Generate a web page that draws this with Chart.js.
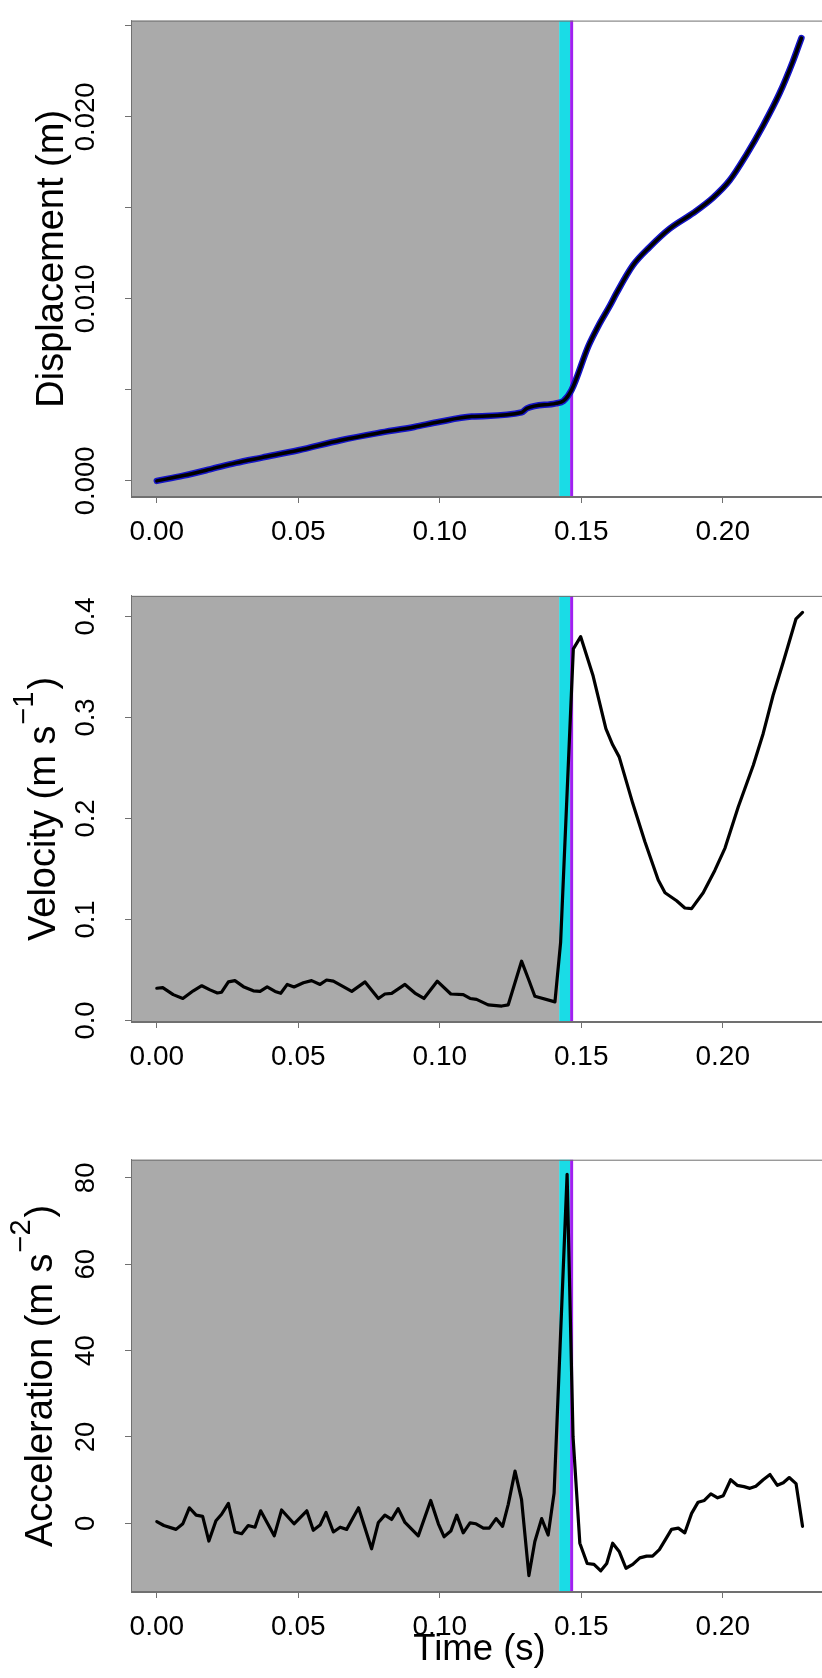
<!DOCTYPE html>
<html>
<head>
<meta charset="utf-8">
<title>Displacement, velocity and acceleration</title>
<script src="https://cdn.jsdelivr.net/npm/chart.js@4.4.1/dist/chart.umd.min.js"></script>
<style>
  html, body { margin: 0; padding: 0; background: #fff; overflow: hidden; }
  #page { position: relative; width: 822px; height: 1678px; overflow: hidden; background: #fff; }
  .panel { position: absolute; left: 0; }
</style>
</head>
<body>
<div id="page">
  <canvas id="dispChart" class="panel" style="top:0px" width="828" height="560"></canvas>
  <canvas id="velChart" class="panel" style="top:560px" width="828" height="560"></canvas>
  <canvas id="accChart" class="panel" style="top:1120px" width="828" height="558"></canvas>
</div>
<script>
// displacement trace (time in s, displacement in m)
var dispTime = [0, 0.0094, 0.0187, 0.028, 0.0372, 0.05, 0.065, 0.078, 0.091, 0.1, 0.1113, 0.1289, 0.1308, 0.141,
    0.1437, 0.1466, 0.1525, 0.156, 0.1601, 0.1624, 0.1683, 0.1742, 0.1812, 0.1895, 0.1965, 0.2024, 0.2083, 0.2142,
    0.2201, 0.2248, 0.2278];
var dispValue = [0, 0.00029, 0.00063, 0.00099, 0.00128, 0.00168, 0.00223, 0.00262, 0.00296, 0.00325, 0.00353,
    0.00376, 0.00398, 0.00426, 0.00439, 0.0050, 0.0074, 0.0085, 0.00962, 0.0103, 0.01185, 0.01285, 0.01385, 0.01471,
    0.01555, 0.0165, 0.0179, 0.0195, 0.0213, 0.02305, 0.02433];

// velocity (m/s)
var velTime = [0, 0.0021, 0.0058, 0.0092, 0.0129, 0.0159, 0.0188, 0.0214, 0.0229, 0.0253, 0.0276, 0.0306, 0.0341,
    0.0365, 0.039, 0.0418, 0.0438, 0.0461, 0.0485, 0.0518, 0.0547, 0.0577, 0.06, 0.0624, 0.0659, 0.0689, 0.0736,
    0.0783, 0.0806, 0.083, 0.0877, 0.0912, 0.0944, 0.0991, 0.1039, 0.1083, 0.1107, 0.113, 0.1171, 0.1219, 0.1242,
    0.1289, 0.1313, 0.1336, 0.1407, 0.1427, 0.1472, 0.1498, 0.1542, 0.1587, 0.1611, 0.1634, 0.1682, 0.1725, 0.1772,
    0.1796, 0.1837, 0.1866, 0.189, 0.1931, 0.1972, 0.2008, 0.2055, 0.2108, 0.2143, 0.2178, 0.2214, 0.2259, 0.2282];
var velValue = [0.0319, 0.0325, 0.0256, 0.0218, 0.0294, 0.0344, 0.0303, 0.0272, 0.028, 0.0382, 0.0395, 0.0335,
    0.0294, 0.0288, 0.0332, 0.0288, 0.0269, 0.0357, 0.0332, 0.0373, 0.0395, 0.0357, 0.0401, 0.0389, 0.0335, 0.0288,
    0.0382, 0.0218, 0.0262, 0.0269, 0.0357, 0.0272, 0.0218, 0.0389, 0.0262, 0.0256, 0.0218, 0.0209, 0.0155, 0.0143,
    0.0155, 0.0587, 0.0413, 0.024, 0.0184, 0.077, 0.368, 0.380, 0.341, 0.289, 0.273, 0.261, 0.215, 0.177, 0.139,
    0.1265, 0.1186, 0.1114, 0.1108, 0.1265, 0.1486, 0.1707, 0.2116, 0.2527, 0.2842, 0.322, 0.355, 0.3977, 0.404];

// acceleration (m/s^2)
var accTime = [0, 0.0025, 0.0068, 0.0092, 0.0115, 0.0139, 0.0162, 0.0184, 0.0209, 0.0229, 0.0253, 0.0276, 0.03,
    0.0323, 0.0347, 0.0367, 0.0392, 0.0415, 0.0441, 0.0485, 0.053, 0.0553, 0.0577, 0.0598, 0.0624, 0.0648, 0.0671,
    0.0713, 0.0759, 0.0783, 0.0806, 0.083, 0.0853, 0.0877, 0.0924, 0.0968, 0.0995, 0.1015, 0.1039, 0.106, 0.1083,
    0.1107, 0.1128, 0.1154, 0.1175, 0.1199, 0.1222, 0.1242, 0.1266, 0.1289, 0.1315, 0.1336, 0.136, 0.1383, 0.1404,
    0.145, 0.1471, 0.1495, 0.1521, 0.1545, 0.1569, 0.159, 0.1611, 0.1634, 0.1658, 0.1682, 0.1707, 0.1731, 0.1752,
    0.1776, 0.1799, 0.1819, 0.1843, 0.1866, 0.189, 0.1913, 0.1935, 0.1958, 0.1982, 0.2002, 0.2028, 0.2051, 0.2075,
    0.2096, 0.2117, 0.2143, 0.2167, 0.2193, 0.2214, 0.2235, 0.2259, 0.2282];
var accValue = [0.4, -0.5, -1.4, -0.1, 3.6, 1.9, 1.6, -4.1, 0.6, 2.1, 4.6, -2.0, -2.4, -0.5, -0.9, 2.9, -0.1, -2.9,
    3.1, -0.1, 2.9, -1.6, -0.4, 2.5, -2.0, -0.9, -1.4, 3.6, -5.9, 0.2, 1.9, 0.9, 3.4, 0.2, -2.9, 5.3, -0.1, -3.1,
    -1.8, 1.9, -2.2, 0.1, -0.1, -1.1, -1.1, 1.1, -0.7, 4.4, 12.1, 5.5, -12.1, -4.2, 1.1, -2.7, 7.0, 80.8, 20, -4.6,
    -9.3, -9.5, -11.0, -9.3, -4.6, -6.5, -10.4, -9.5, -8.0, -7.6, -7.6, -6.1, -3.6, -1.4, -1.1, -2.2, 2.3, 4.9, 5.3,
    6.8, 5.9, 6.4, 10.1, 8.8, 8.5, 8.1, 8.6, 10.1, 11.3, 8.8, 9.4, 10.6, 9.2, -0.7];

// shaded phases (s)
var shadeEnd = 0.1422;
var cyanEnd = 0.1461;
var markTime = 0.1466;

// axes
var timeMin = -0.00912, timeMax = 0.2372;
var timeTicks = [0, 0.05, 0.10, 0.15, 0.20];
var timeTickLabels = ['0.00', '0.05', '0.10', '0.15', '0.20'];
var dispTicks = [0, 0.005, 0.010, 0.015, 0.020, 0.025];
var dispTickLabels = ['0.000', '', '0.010', '', '0.020', ''];
var velTicks = [0, 0.1, 0.2, 0.3, 0.4];
var velTickLabels = ['0.0', '0.1', '0.2', '0.3', '0.4'];
var accTicks = [0, 20, 40, 60, 80];
var accTickLabels = ['0', '20', '40', '60', '80'];

var family = "'Liberation Sans', Arial, sans-serif";
var axisGray = '#707070';
var xTickSize = 28;
var yTickSize = 27.5;
Chart.defaults.font.family = family;

var points = function(xs, ys) {
    return xs.map(function(x, i) { return { x: x, y: ys[i] }; });
};

// y labels are rotated and centred on x = 86.5 like R does
var centerPad = function(labels) {
    var c = document.createElement('canvas').getContext('2d');
    c.font = yTickSize + 'px ' + family;
    var w = 0;
    labels.forEach(function(s) { w = Math.max(w, c.measureText(s).width); });
    return 131 - 6 - 86.5 - w / 2;
};

var shading = {
    id: 'shading',
    beforeDatasetsDraw: function(chart) {
        var ctx = chart.ctx, a = chart.chartArea, xs = chart.scales.x;
        var x1 = xs.getPixelForValue(shadeEnd);
        var x2 = xs.getPixelForValue(cyanEnd);
        var x3 = xs.getPixelForValue(markTime);
        ctx.save();
        ctx.fillStyle = '#AAAAAA';
        ctx.fillRect(a.left, a.top, x1 - a.left, a.bottom - a.top);
        ctx.fillStyle = '#1ADCE6';
        ctx.fillRect(x1, a.top, x2 - x1, a.bottom - a.top);
        ctx.strokeStyle = '#A020F0';
        ctx.lineWidth = 3;
        ctx.beginPath();
        ctx.moveTo(x3, a.top);
        ctx.lineTo(x3, a.bottom);
        ctx.stroke();
        ctx.restore();
    },
    afterDraw: function(chart) {
        var ctx = chart.ctx, a = chart.chartArea;
        ctx.save();
        ctx.strokeStyle = axisGray;
        ctx.lineWidth = 1;
        ctx.strokeRect(a.left + 0.5, a.top + 0.5, a.right - a.left - 1, a.bottom - a.top - 1);
        ctx.restore();
    }
};

// rotated y title, parts may be superscripts
var yTitle = function(parts, baseline) {
    return {
        id: 'yTitle',
        afterDraw: function(chart) {
            var ctx = chart.ctx, a = chart.chartArea;
            var big = '38px ' + family, small = '29px ' + family;
            ctx.save();
            var total = 0;
            parts.forEach(function(p) {
                ctx.font = p.sup ? small : big;
                total += ctx.measureText(p.text).width + (p.sup ? 3 : 0);
            });
            ctx.translate(baseline, (a.top + a.bottom) / 2);
            ctx.rotate(-Math.PI / 2);
            ctx.fillStyle = '#000';
            ctx.textAlign = 'left';
            ctx.textBaseline = 'alphabetic';
            var x = -total / 2;
            parts.forEach(function(p) {
                ctx.font = p.sup ? small : big;
                if (p.sup) {
                    ctx.fillText(p.text, x + 1, -22);
                    x += ctx.measureText(p.text).width + 3;
                } else {
                    ctx.fillText(p.text, x, 0);
                    x += ctx.measureText(p.text).width;
                }
            });
            ctx.restore();
        }
    };
};

var makePanel = function(id, cfg) {
    return new Chart(document.getElementById(id), {
        type: 'line',
        data: { datasets: cfg.datasets },
        options: {
            responsive: false,
            animation: false,
            events: [],
            layout: { padding: { top: cfg.padTop, left: 0, right: 0, bottom: 0 } },
            plugins: { legend: { display: false }, tooltip: { enabled: false } },
            elements: { point: { radius: 0 }, line: { tension: 0 } },
            scales: {
                x: {
                    type: 'linear',
                    min: timeMin,
                    max: timeMax,
                    afterBuildTicks: function(s) { s.ticks = timeTicks.map(function(v) { return { value: v }; }); },
                    afterFit: function(s) { s.height = cfg.xHeight; },
                    grid: { display: true, drawOnChartArea: false, drawTicks: true, tickLength: 6, color: axisGray },
                    border: { display: true, color: axisGray },
                    ticks: {
                        autoSkip: false, maxRotation: 0, minRotation: 0, padding: 12, color: '#000',
                        font: { size: xTickSize, lineHeight: 1.2 },
                        callback: function(v, i) { return timeTickLabels[i]; }
                    },
                    title: cfg.xTitle ? {
                        display: true, text: cfg.xTitle, color: '#000',
                        font: { size: 36.5, lineHeight: 1 }, padding: { top: 0, bottom: 10 }
                    } : { display: false }
                },
                y: {
                    type: 'linear',
                    min: cfg.yMin,
                    max: cfg.yMax,
                    afterBuildTicks: function(s) { s.ticks = cfg.yTicks.map(function(v) { return { value: v }; }); },
                    afterFit: function(s) { s.width = 131; },
                    grid: { display: true, drawOnChartArea: false, drawTicks: true, tickLength: 6, color: axisGray },
                    border: { display: true, color: axisGray },
                    ticks: {
                        autoSkip: false, minRotation: 90, maxRotation: 90, crossAlign: 'center',
                        padding: centerPad(cfg.yLabels), color: '#000', font: { size: yTickSize },
                        callback: function(v, i) { return cfg.yLabels[i]; }
                    }
                }
            }
        },
        plugins: [shading, yTitle(cfg.title, cfg.titleBase)]
    });
};

makePanel('dispChart', {
    padTop: 7, xHeight: 63,
    yMin: -0.000887, yMax: 0.02529, yTicks: dispTicks, yLabels: dispTickLabels,
    title: [{ text: 'Displacement (m)' }], titleBase: 63,
    // black trace first so it is painted over the blue one
    datasets: [{
        data: points(dispTime, dispValue), borderColor: '#000', borderWidth: 3.5,
        cubicInterpolationMode: 'monotone', borderCapStyle: 'round', borderJoinStyle: 'round'
    }, {
        data: points(dispTime, dispValue), borderColor: '#1414C8', borderWidth: 6.5,
        cubicInterpolationMode: 'monotone', borderCapStyle: 'round', borderJoinStyle: 'round'
    }]
});

makePanel('velChart', {
    padTop: 16, xHeight: 98,
    yMin: -0.0015, yMax: 0.4204, yTicks: velTicks, yLabels: velTickLabels,
    title: [{ text: 'Velocity (m s' }, { text: '\u22121', sup: true }, { text: ')' }], titleBase: 55,
    datasets: [{
        data: points(velTime, velValue), borderColor: '#000', borderWidth: 3.2,
        borderCapStyle: 'round', borderJoinStyle: 'round'
    }]
});

makePanel('accChart', {
    padTop: 26, xHeight: 86, xTitle: 'Time (s)',
    yMin: -15.9, yMax: 84.2, yTicks: accTicks, yLabels: accTickLabels,
    title: [{ text: 'Acceleration (m s' }, { text: '\u22122', sup: true }, { text: ')' }], titleBase: 52.4,
    datasets: [{
        data: points(accTime, accValue), borderColor: '#000', borderWidth: 3.2,
        borderCapStyle: 'round', borderJoinStyle: 'round'
    }]
});
</script>
</body>
</html>
